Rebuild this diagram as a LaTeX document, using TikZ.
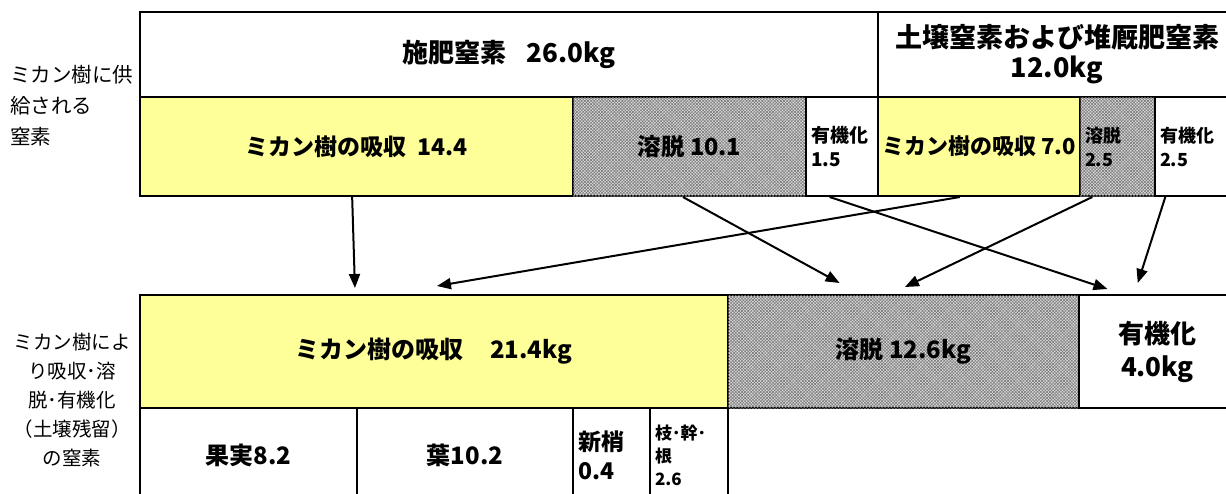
\documentclass[tikz,border=0pt]{standalone}
\usepackage{fontspec}
\setmainfont{Noto Sans CJK JP}
\usetikzlibrary{arrows.meta,patterns.meta,calc}
\definecolor{cyel}{HTML}{FFFF99}
\newcommand\fsz[2]{\fontsize{#1}{#2}\selectfont}
\begin{document}
\begin{tikzpicture}[x=1pt,y=-1pt,
  cell/.style={draw=black,line width=2pt,inner sep=0pt},
  yel/.style={cell,fill=cyel},
  wht/.style={cell,fill=white},
  hat/.style={cell,fill=gray!28,
    postaction={pattern={Lines[angle=45,distance=2.2pt,line width=0.5pt]},pattern color=black!55},
    postaction={pattern={Lines[angle=-45,distance=2.2pt,line width=0.5pt]},pattern color=black!55}},
  bf/.style 2 args={font=\bfseries\fsz{#1}{#2}},
  lft/.style={align=left,inner xsep=5pt,inner ysep=0pt},
  lbl/.style={inner sep=0pt},
  arr/.style={line width=2pt,-{Triangle[length=14pt,width=11pt]}}]
\useasboundingbox (0,0) rectangle (1226,493);

% left labels
\node[lbl,anchor=west,align=left,font=\fsz{20.5}{31}] (L1) at (10,106) {ミカン樹に供\\給される\\窒素};
\node[lbl,align=center,font=\fsz{19.5}{29}] (L2) at (72,400) {ミカン樹によ\\り吸収･溶\\脱･有機化\\（土壌残留）\\の窒素};

% top box, row 1
\node[wht,bf={26}{30},minimum width=738pt,minimum height=85pt] (A) at (509,54.5) {施肥窒素\hspace{0.8em}26.0kg};
\node[wht,bf={27}{30},minimum width=358pt,minimum height=85pt,align=center] (B) at (1057,54.5) {土壌窒素および堆厩肥窒素\\12.0kg};

% top box, row 2
\node[yel,bf={23}{26},minimum width=433pt,minimum height=99pt] (c1) at (356.5,146.5) {ミカン樹の吸収\hspace{0.45em}14.4};
\node[hat,bf={23.5}{26},minimum width=233pt,minimum height=99pt] (c2) at (689.5,146.5) {溶脱 10.1};
\node[wht,bf={19}{24},lft,text width=62pt,minimum width=72pt,minimum height=99pt] (c3) at (842,146.5) {有機化\\1.5};
\node[yel,bf={22}{24},minimum width=202pt,minimum height=99pt] (c4) at (979,146.5) {ミカン樹の吸収 7.0};
\node[hat,bf={18}{24},lft,text width=65pt,minimum width=75pt,minimum height=99pt,inner xsep=3pt] (c5) at (1117.5,146.5) {溶脱\\2.5};
\node[wht,bf={18}{24},lft,text width=71pt,minimum width=81pt,minimum height=99pt,inner xsep=4pt] (c6) at (1195.5,146.5) {有機化\\2.5};

% bottom box, row 1
\node[yel,bf={24}{28},minimum width=588pt,minimum height=113pt] (d1) at (434,351.5) {ミカン樹の吸収\hspace{1.1em}21.4kg};
\node[hat,bf={24}{28},minimum width=351pt,minimum height=113pt] (d2) at (903.5,351.5) {溶脱 12.6kg};
\node[wht,bf={26}{33},minimum width=157pt,minimum height=113pt,align=center] (d3) at (1157.5,351.5) {有機化\\4.0kg};

% bottom box, row 2
\node[wht,bf={24}{28},minimum width=217pt,minimum height=94pt] (e1) at (248.5,455) {果実8.2};
\node[wht,bf={24}{28},minimum width=216pt,minimum height=94pt] (e2) at (465,455) {葉10.2};
\node[wht,bf={23}{29},lft,text width=67pt,minimum width=77pt,minimum height=94pt] (e3) at (611.5,455) {新梢\\0.4};
\node[wht,bf={17}{23},lft,text width=68pt,minimum width=78pt,minimum height=94pt] (e4) at (689,455) {枝･幹･\\根\\2.6};

% arrows
\draw[arr] ($(c1.south west)!0.49!(c1.south east)$) -- ($(d1.north west)!0.366!(d1.north east)+(0,-6)$);
\draw[arr] ($(c4.south west)!0.406!(c4.south east)$) -- ($(d1.north west)!0.505!(d1.north east)+(0,-8)$);
\draw[arr] ($(c2.south west)!0.472!(c2.south east)$) -- ($(d2.north west)!0.319!(d2.north east)+(0,-11)$);
\draw[arr] ($(c3.south west)!0.333!(c3.south east)$) -- ($(d3.north west)!0.185!(d3.north east)+(0,-5)$);
\draw[arr] ($(c5.south west)!0.173!(c5.south east)$) -- ($(d2.north west)!0.504!(d2.north east)+(0,-7)$);
\draw[arr] ($(c6.south west)!0.136!(c6.south east)$) -- ($(d3.north west)!0.376!(d3.north east)+(0,-11)$);
\end{tikzpicture}
\end{document}
